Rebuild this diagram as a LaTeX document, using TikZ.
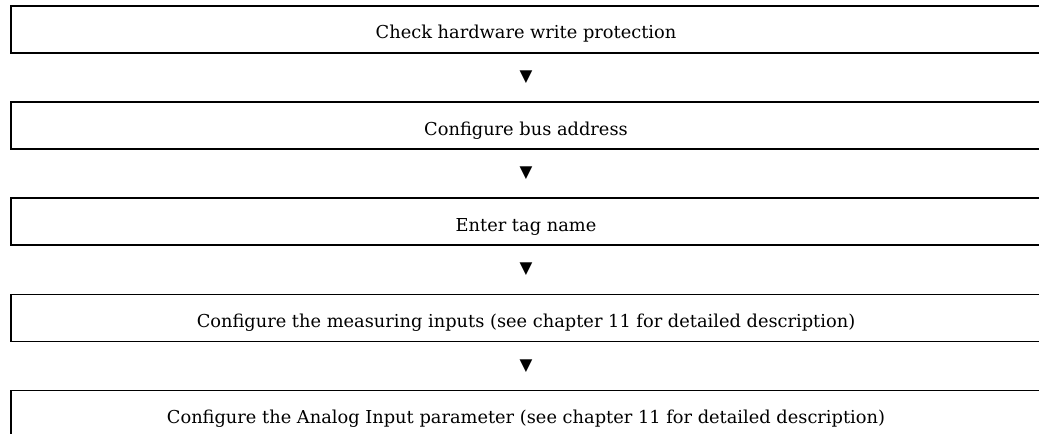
\documentclass[tikz,border=0pt]{standalone}
\usepackage{fontspec}
\setmainfont{DejaVu Serif}
\newfontfamily\markfont{DejaVu Sans}
\usepackage{tikz}
\usetikzlibrary{
  calc,
  positioning,
}
\tikzstyle{stepbox} = [
  draw,
  rectangle,
  line width=1pt,
  minimum width=772.5pt,
  minimum height=35.25pt,
  inner sep=0pt,
  text height=14.25pt,
  text depth=0pt,
  font=\fontsize{13.35pt}{16pt}\selectfont,
]
\tikzstyle{arrowmark} = [
  inner sep=0pt,
  font=\markfont\fontsize{12.5pt}{14pt}\selectfont,
]

\begin{document}
\begin{tikzpicture}[node distance=35.8pt and 0pt]
        \useasboundingbox (0,0) rectangle (779.25pt,-325.5pt);
        \clip (0,0) rectangle (779.25pt,-325.5pt);

        \node[stepbox]    (s0)   at (394.5pt,-22.125pt)   {Check hardware write protection};
        \node[stepbox]    (s1)   [below=of s0]    {Configure bus address};
        \node[stepbox]    (s2)   [below=of s1]    {Enter tag name};
        \node[stepbox]    (s3)   [below=of s2]    {Configure the measuring inputs (see chapter 11 for detailed description)};
        \node[stepbox]    (s4)   [below=of s3]    {Configure the Analog Input parameter (see chapter 11 for detailed description)};

        \foreach \i [evaluate=\i as \j using int(\i+1)] in {0,...,3}
            \node[arrowmark]  (m\i)  at ($(s\i.south)!0.5!(s\j.north)$)  {▼};
    \end{tikzpicture}
\end{document}
